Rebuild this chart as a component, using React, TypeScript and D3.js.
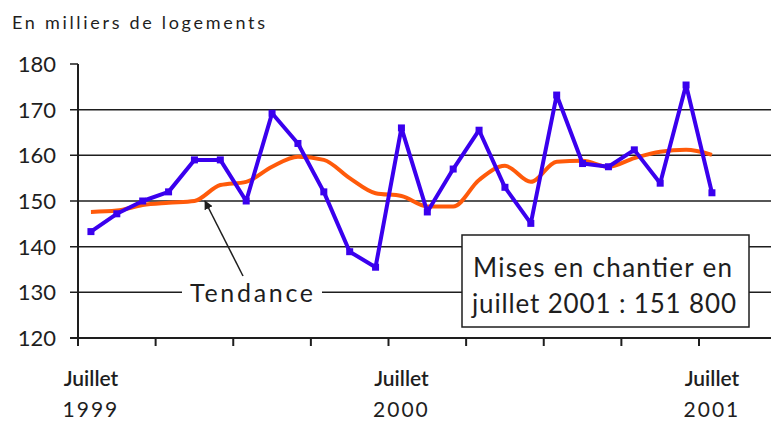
import React, { useEffect, useRef } from 'react';
import * as d3 from 'd3';

// monthly values, July 1999 -> July 2001 (thousands of dwellings)
const months = d3.range(25);
const starts = [
  143.3, 147.2, 150, 152, 159, 159, 150, 169.2, 162.6, 152, 138.9, 135.5, 166,
  147.6, 157, 165.5, 153, 145.1, 173.2, 158.2, 157.5, 161.2, 153.9, 175.4, 151.8,
];
const trend = [
  147.6, 147.9, 149.1, 149.6, 150, 153.5, 154.2, 157.5, 159.7, 159, 155, 151.7, 151.1,
  148.8, 148.8, 154.6, 157.7, 154.2, 158.6, 158.8, 157.5, 159.4, 160.8, 161.2, 160.1,
];
const yTicks = [120, 130, 140, 150, 160, 170, 180];
const xTickMonths = [0, 3, 6, 9, 12, 15, 18, 21, 24];
const xLabels = [
  { month: 0, line1: 'Juillet', line2: '1999' },
  { month: 12, line1: 'Juillet', line2: '2000' },
  { month: 24, line1: 'Juillet', line2: '2001' },
];

const W = 771;
const H = 421;
const FONT = 'Lato, "Open Sans", sans-serif';
const INK = '#1e1e1e';

const App: React.FC = () => {
  const svgRef = useRef<SVGSVGElement>(null);

  useEffect(() => {
    if (!svgRef.current) return;
    const svg = d3.select(svgRef.current);
    svg.selectAll('*').remove();

    const x = d3.scaleLinear().domain([0, 24]).range([78, 699]);
    const y = d3.scaleLinear().domain([120, 180]).range([338, 64]);
    const px = (i: number) => x(i + 0.5);

    // title
    svg.append('text')
      .attr('x', 12).attr('y', 29)
      .attr('font-family', FONT).attr('font-size', 18)
      .attr('fill', INK)
      .attr('textLength', 253).attr('lengthAdjust', 'spacing')
      .text('En milliers de logements');

    // gridlines + y ticks
    svg.append('g')
      .selectAll('line')
      .data(yTicks)
      .enter()
      .append('line')
      .attr('x1', 70)
      .attr('x2', d => (d === 180 ? 78 : W))
      .attr('y1', d => y(d)).attr('y2', d => y(d))
      .attr('stroke', INK).attr('stroke-width', d => (d === 120 ? 2 : 1.5));

    svg.append('g')
      .selectAll('text')
      .data(yTicks)
      .enter()
      .append('text')
      .attr('x', 56).attr('y', d => y(d) + 8)
      .attr('text-anchor', 'end')
      .attr('font-family', FONT).attr('font-size', 22)
      .attr('fill', INK)
      .text(d => String(d));

    // y axis
    svg.append('line')
      .attr('x1', 78).attr('x2', 78)
      .attr('y1', y(180)).attr('y2', y(120))
      .attr('stroke', INK).attr('stroke-width', 2);

    // x ticks
    svg.append('g')
      .selectAll('line')
      .data(xTickMonths)
      .enter()
      .append('line')
      .attr('x1', d => x(d)).attr('x2', d => x(d))
      .attr('y1', y(120)).attr('y2', y(120) + 8)
      .attr('stroke', INK).attr('stroke-width', 2);

    const xl = svg.append('g')
      .selectAll('g')
      .data(xLabels)
      .enter()
      .append('g');
    xl.append('text')
      .attr('x', d => px(d.month)).attr('y', 386)
      .attr('text-anchor', 'middle')
      .attr('font-family', FONT).attr('font-size', 21)
      .attr('font-weight', 600)
      .attr('fill', INK)
      .text(d => d.line1);
    xl.append('text')
      .attr('x', d => px(d.month)).attr('y', 417)
      .attr('text-anchor', 'middle')
      .attr('font-family', FONT).attr('font-size', 21)
      .attr('fill', INK)
      .attr('letter-spacing', 2)
      .text(d => d.line2);

    // "Tendance" label with arrow
    svg.append('rect')
      .attr('x', 182).attr('y', 282).attr('width', 140).attr('height', 22)
      .attr('fill', 'white');
    svg.append('text')
      .attr('x', 190).attr('y', 302)
      .attr('font-family', FONT).attr('font-size', 25)
      .attr('fill', INK)
      .attr('textLength', 123).attr('lengthAdjust', 'spacing')
      .text('Tendance');

    const defs = svg.append('defs');
    defs.append('marker')
      .attr('id', 'arrow')
      .attr('viewBox', '0 0 10 10')
      .attr('refX', 9).attr('refY', 5)
      .attr('markerWidth', 9).attr('markerHeight', 9)
      .attr('markerUnits', 'userSpaceOnUse')
      .attr('orient', 'auto')
      .append('path')
      .attr('d', 'M0,0L10,5L0,10z')
      .attr('fill', INK);
    svg.append('line')
      .attr('x1', 243).attr('y1', 276)
      .attr('x2', 205).attr('y2', 201)
      .attr('stroke', INK).attr('stroke-width', 1.5)
      .attr('marker-end', 'url(#arrow)');

    // annotation box
    svg.append('rect')
      .attr('x', 462).attr('y', 235).attr('width', 287).attr('height', 92)
      .attr('fill', 'white')
      .attr('stroke', INK).attr('stroke-width', 1.5);
    svg.append('text')
      .attr('x', 473).attr('y', 277)
      .attr('font-family', FONT).attr('font-size', 26)
      .attr('fill', INK)
      .attr('textLength', 259).attr('lengthAdjust', 'spacing')
      .text('Mises en chantier en');
    svg.append('text')
      .attr('x', 472).attr('y', 313)
      .attr('font-family', FONT).attr('font-size', 26)
      .attr('fill', INK)
      .attr('textLength', 264).attr('lengthAdjust', 'spacing')
      .text('juillet 2001 : 151 800');

    // trend line
    const trendLine = d3.line<number>()
      .x((_d, i) => px(months[i]))
      .y(d => y(d))
      .curve(d3.curveMonotoneX);
    svg.append('path')
      .datum(trend)
      .attr('d', trendLine)
      .attr('fill', 'none')
      .attr('stroke', '#ff5a0a')
      .attr('stroke-width', 4)
      .attr('stroke-linejoin', 'round');

    // monthly starts
    const startsLine = d3.line<number>()
      .x((_d, i) => px(months[i]))
      .y(d => y(d));
    svg.append('path')
      .datum(starts)
      .attr('d', startsLine)
      .attr('fill', 'none')
      .attr('stroke', '#3a00ee')
      .attr('stroke-width', 4)
      .attr('stroke-linejoin', 'round');
    svg.append('g')
      .selectAll('rect')
      .data(starts)
      .enter()
      .append('rect')
      .attr('x', (_d, i) => px(months[i]) - 3.5)
      .attr('y', d => y(d) - 3.5)
      .attr('width', 7).attr('height', 7)
      .attr('fill', '#3a00ee');
  }, []);

  return (
    <svg
      ref={svgRef}
      width={W}
      height={H}
      style={{ position: 'absolute', left: 0, top: 0, background: 'white' }}
    />
  );
};

export default App;
